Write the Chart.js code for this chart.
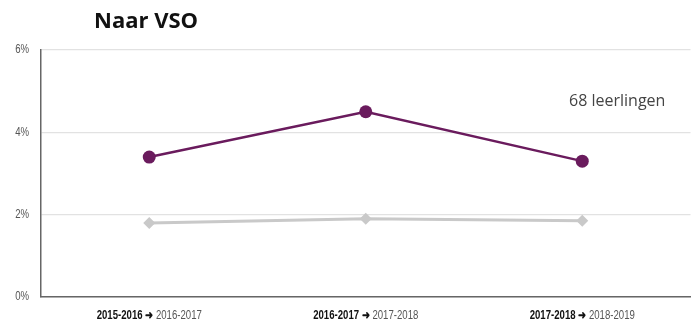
<!DOCTYPE html>
<html>
<head>
<meta charset="utf-8">
<script src="https://cdn.jsdelivr.net/npm/chart.js@4/dist/chart.umd.min.js"></script>
<style>
html,body{margin:0;padding:0;background:#fff;}
#wrap{position:relative;width:697px;height:326px;}
</style>
</head>
<body>
<div id="wrap"><canvas id="c" width="697" height="326"></canvas></div>
<script>
const fromYears = ["2015-2016", "2016-2017", "2017-2018"];
const toYears = ["2016-2017", "2017-2018", "2018-2019"];
const categories = fromYears.map((f, i) => f + " ➜ " + toYears[i]);
const vsoValues = [3.4, 4.5, 3.3];
const referenceValues = [1.8, 1.9, 1.85];
const yTicks = [0, 2, 4, 6];
const titleText = "Naar VSO";
const noteText = "68 leerlingen";

const tickFont = "'Liberation Sans', Arial, sans-serif";
const condense = 0.8;

const textPlugin = {
  id: 'texts',
  afterDraw(chart) {
    const ctx = chart.ctx;
    const xs = chart.scales.x;
    const ys = chart.scales.y;
    ctx.save();
    // title
    ctx.fillStyle = '#111';
    ctx.font = "bold 22px 'Open Sans', sans-serif";
    ctx.textBaseline = 'middle';
    ctx.textAlign = 'left';
    ctx.fillText(titleText, 94, 22);
    // note
    ctx.fillStyle = '#444';
    ctx.font = "16px 'Open Sans', sans-serif";
    ctx.fillText(noteText, 569, 101);
    // y tick labels (condensed)
    ctx.font = "12px " + tickFont;
    ctx.fillStyle = '#555';
    ctx.textAlign = 'right';
    for (const t of ys.ticks) {
      const y = ys.getPixelForValue(t.value);
      ctx.save();
      ctx.translate(29, y);
      ctx.scale(condense, 1);
      ctx.fillText(t.value + '%', 0, 0);
      ctx.restore();
    }
    // x labels (condensed, bold + regular)
    ctx.textAlign = 'left';
    for (let i = 0; i < categories.length; i++) {
      const x = xs.getPixelForValue(i);
      const boldPart = fromYears[i] + " ➜ ";
      const normPart = toYears[i];
      ctx.font = "bold 12px " + tickFont;
      const wb = ctx.measureText(boldPart).width;
      ctx.font = "12px " + tickFont;
      const wn = ctx.measureText(normPart).width;
      ctx.save();
      ctx.translate(x - condense * (wb + wn) / 2, 316);
      ctx.scale(condense, 1);
      ctx.fillStyle = '#111';
      ctx.font = "bold 12px " + tickFont;
      ctx.fillText(boldPart, 0, 0);
      ctx.fillStyle = '#555';
      ctx.font = "12px " + tickFont;
      ctx.fillText(normPart, wb, 0);
      ctx.restore();
    }
    ctx.restore();
  }
};

new Chart(document.getElementById('c'), {
  type: 'line',
  data: {
    labels: categories,
    datasets: [
      {
        data: referenceValues,
        borderColor: '#c9c9c9',
        backgroundColor: '#c9c9c9',
        borderWidth: 3,
        pointStyle: 'rectRot',
        pointRadius: 6,
        pointBorderWidth: 0,
        tension: 0
      },
      {
        data: vsoValues,
        borderColor: '#6a1b5d',
        backgroundColor: '#6a1b5d',
        borderWidth: 2.5,
        pointStyle: 'circle',
        pointRadius: 6.5,
        pointBorderWidth: 0,
        tension: 0
      }
    ]
  },
  options: {
    responsive: false,
    animation: false,
    layout: { padding: { top: 50, right: 4, left: 0, bottom: 0 } },
    plugins: { legend: { display: false }, tooltip: { enabled: false } },
    scales: {
      x: {
        offset: true,
        grid: { display: false, drawTicks: false },
        border: { display: true, color: '#666', width: 1.5 },
        ticks: { display: false },
        afterFit(s) { s.height = 29; }
      },
      y: {
        min: 0, max: 6,
        afterBuildTicks(s) { s.ticks = yTicks.map(v => ({ value: v })); },
        grid: { color: '#e2e2e2', drawTicks: false, lineWidth: 1.2 },
        border: { display: true, color: '#666', width: 1.5 },
        ticks: { display: false },
        afterFit(s) { s.width = 41; }
      }
    }
  },
  plugins: [textPlugin]
});
</script>
</body>
</html>
